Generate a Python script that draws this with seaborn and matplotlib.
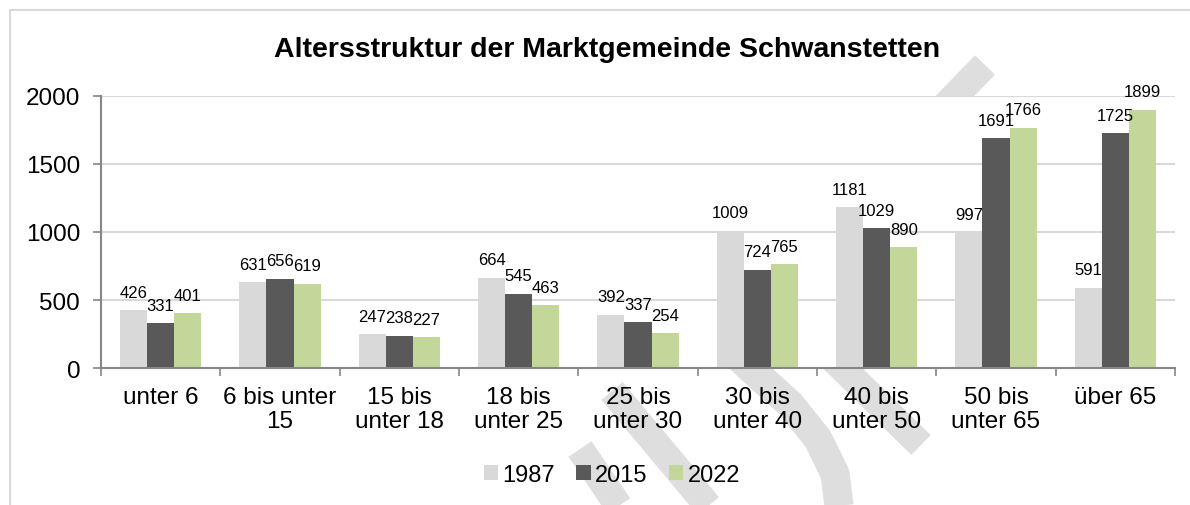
import matplotlib
matplotlib.use("Agg")
import matplotlib.pyplot as plt
import seaborn as sns
import pandas as pd
from matplotlib.lines import Line2D
from matplotlib.patches import Rectangle

categories = ["unter 6", "6 bis unter\n15", "15 bis\nunter 18", "18 bis\nunter 25",
              "25 bis\nunter 30", "30 bis\nunter 40", "40 bis\nunter 50",
              "50 bis\nunter 65", "über 65"]
years = ["1987", "2015", "2022"]
v1987 = [426, 631, 247, 664, 392, 1009, 1181, 997, 591]
v2015 = [331, 656, 238, 545, 337, 724, 1029, 1691, 1725]
v2022 = [401, 619, 227, 463, 254, 765, 890, 1766, 1899]
yticks = [0, 500, 1000, 1500, 2000]
colors = ["#D9D9D9", "#595959", "#C4D79B"]
title = "Altersstruktur der Marktgemeinde Schwanstetten"

sns.set_theme(style="white")
plt.rcParams['font.family'] = ['Liberation Sans', 'DejaVu Sans']
plt.rcParams['text.color'] = 'black'

rows = []
for yr, vals in zip(years, [v1987, v2015, v2022]):
    for c, v in zip(categories, vals):
        rows.append({"cat": c, "val": v, "year": yr})
df = pd.DataFrame(rows)

W, H = 1190, 506
fig = plt.figure(figsize=(W / 100, H / 100), dpi=100, facecolor="white")

def px(x, y):
    return x / W, 1 - y / H

# outer frame
fig.add_artist(Rectangle((10 / W, -0.5), 2, (1 - 11 / H) + 0.5, transform=fig.transFigure,
                         fill=False, edgecolor="#D9D9D9", lw=1.5, zorder=-3))

# watermark strokes (decorative)
wm = "#DEDEDE"
strokes = [
    ([(985, 66), (850, 205)], 20),
    ([(818, 345), (921, 446)], 20),
    ([(725, 345), (751, 370), (790, 405), (818, 440), (835, 475), (840, 515)], 21),
    ([(580, 450), (624, 515)], 20),
    ([(612, 392), (715, 515)], 20),
]
for s, w in strokes:
    xs = [px(a, b)[0] for a, b in s]
    ys = [px(a, b)[1] for a, b in s]
    fig.add_artist(Line2D(xs, ys, transform=fig.transFigure, color=wm, lw=w,
                          solid_capstyle="butt", solid_joinstyle="round", zorder=-2))

l, b = px(101, 369)
r, t = px(1175, 97)
ax = fig.add_axes([l, b, r - l, t - b])
ax.set_facecolor("white")
sns.barplot(data=df, x="cat", y="val", hue="year", palette=colors, width=0.68,
            saturation=1, linewidth=0, ax=ax)

handles, labels = ax.get_legend_handles_labels()
if ax.get_legend() is not None:
    ax.get_legend().remove()

for cont in ax.containers:
    ax.bar_label(cont, fmt="%g", padding=7.5, fontsize=12, color="black")

ax.set_ylim(0, 2000)
ax.set_xlim(-0.5, len(categories) - 0.5)
ax.set_yticks(yticks)
ax.set_xlabel("")
ax.set_ylabel("")
ax.yaxis.grid(True, color="#D9D9D9", lw=1.5)
ax.set_axisbelow(True)
for sp in ["top", "right"]:
    ax.spines[sp].set_visible(False)
for sp in ["left", "bottom"]:
    ax.spines[sp].set_color("#868686")
    ax.spines[sp].set_linewidth(1.5)

ax.set_xticks([i - 0.5 for i in range(len(categories) + 1)], minor=True)
ax.tick_params(axis="x", which="minor", length=6, width=1.2, color="#868686", direction="out", bottom=True)
ax.tick_params(axis="x", which="major", length=0, pad=13, labelsize=17.5, labelcolor="black")
ax.tick_params(axis="y", which="major", length=6, width=1.2, color="#868686", direction="out",
               left=True, pad=9, labelsize=17.5, labelcolor="black")
for lbl in ax.get_xticklabels():
    lbl.set_linespacing(1.12)

fig.text(*px(607, 50), title, fontsize=20.5, fontweight="bold", ha="center", va="center",
         color="black")

leg = fig.legend(handles, labels, loc="center", bbox_to_anchor=px(612, 476), ncol=3, frameon=False,
                 fontsize=17, handlelength=0.6, handleheight=0.6, handletextpad=0.2,
                 columnspacing=0.9, borderaxespad=0)
for txt in leg.get_texts():
    txt.set_color("black")

fig.savefig("out.png", dpi=100, facecolor="white")
